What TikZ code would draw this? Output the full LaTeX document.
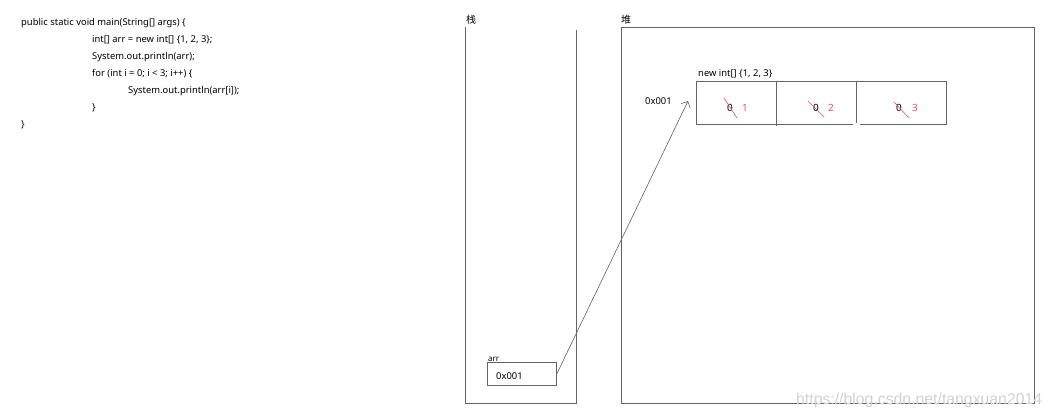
\documentclass[tikz,border=0pt]{standalone}
\usepackage{fontspec}
\setmainfont{Noto Sans}
\newfontfamily\cjkfont{Noto Sans CJK SC}
\newfontfamily\wmfont{Liberation Sans}
\usetikzlibrary{arrows.meta}
\definecolor{linegray}{RGB}{100,100,100}
\definecolor{strikered}{RGB}{235,80,80}
\definecolor{wmgray}{RGB}{210,210,210}
\tikzset{
  code/.style={anchor=base west, inner sep=0pt, font=\fontsize{9.4}{11}\selectfont, text=black},
  lbl/.style={anchor=base west, inner sep=0pt, font=\fontsize{9.4}{11}\selectfont, text=black},
  cjk/.style={anchor=base west, inner sep=0pt, font=\cjkfont\fontsize{10}{11}\selectfont, text=black},
  boxline/.style={draw=linegray, line width=0.8pt},
  oldval/.style={anchor=base, inner sep=0pt, font=\fontsize{10}{11}\selectfont, text=black},
  newval/.style={anchor=base, inner sep=0pt, font=\fontsize{10}{11}\selectfont, text=strikered},
  strike/.style={draw=strikered, line width=0.6pt},
  ptrarrow/.style={draw=linegray, line width=0.6pt, -{Straight Barb[length=5pt,width=10pt]}},
}
\begin{document}
\begin{tikzpicture}[x=1pt,y=-1pt]
\useasboundingbox[fill=white] (0,0) rectangle (1052,418);
% code
\node[code] (c1) at (21,25) {public static void main(String[] args) \{};
\node[code] (c2) at (92,42) {int[] arr = new int[] \{1, 2, 3\};};
\node[code] (c3) at (92,59) {System.out.println(arr);};
\node[code] (c4) at (92,76) {for (int i = 0; i < 3; i++) \{};
\node[code] (c5) at (128,93) {System.out.println(arr[i]);};
\node[code] (c6) at (92,110) {\}};
\node[code] (c7) at (21,127) {\}};
% stack
\node[cjk] (stacklbl) at (466,23) {栈};
\draw[boxline] (465,27) -- (465,403) -- (576,403) -- (576,30);
% heap
\node[cjk] (heaplbl) at (621,23) {堆};
\draw[boxline] (621,27) rectangle (1034,403);
% arr variable
\node[anchor=base west, inner sep=0pt, font=\fontsize{8}{9}\selectfont] (arrlbl) at (488,361) {arr};
\node[boxline, anchor=north west, minimum width=69pt, minimum height=23pt, inner sep=0pt] (arrbox) at (487,362) {};
\node[lbl] (arrval) at (496,379) {0x001};
% array in heap
\node[lbl] (arrtitle) at (698,76) {new int[] \{1, 2, 3\}};
\node[lbl] (addr) at (645,104) {0x001};
\coordinate (tl) at (696,81);
\coordinate (tr) at (946,81);
\coordinate (bl) at (696,124);
\coordinate (br) at (946,124);
\draw[boxline] (bl) -- (tl) -- (tr) -- (br) -- (860,124);
\draw[boxline] (bl) -- (853,124);
\draw[boxline] (776,81) -- (776,126);
\draw[boxline] (856,82) -- (856,123);
% cell values
\node[oldval] (o1) at (730,111) {0};
\draw[strike] (724,98) -- (737,118);
\node[newval] (n1) at (745,111) {1};
\node[oldval] (o2) at (816,111) {0};
\draw[strike] (808,101) -- (824,117);
\node[newval] (n2) at (831,111) {2};
\node[oldval] (o3) at (899,111) {0};
\draw[strike] (894,102) -- (909,118);
\node[newval] (n3) at (915,111) {3};
% pointer
\coordinate (ptr) at (688,101);
\draw[ptrarrow] (arrbox.east) -- (ptr);
% watermark
\node[anchor=west, inner sep=0pt, font=\wmfont\fontsize{15.8}{16}\selectfont, text=wmgray] (wm) at (796,400) {https://blog.csdn.net/tangxuan2014};
\end{tikzpicture}
\end{document}
